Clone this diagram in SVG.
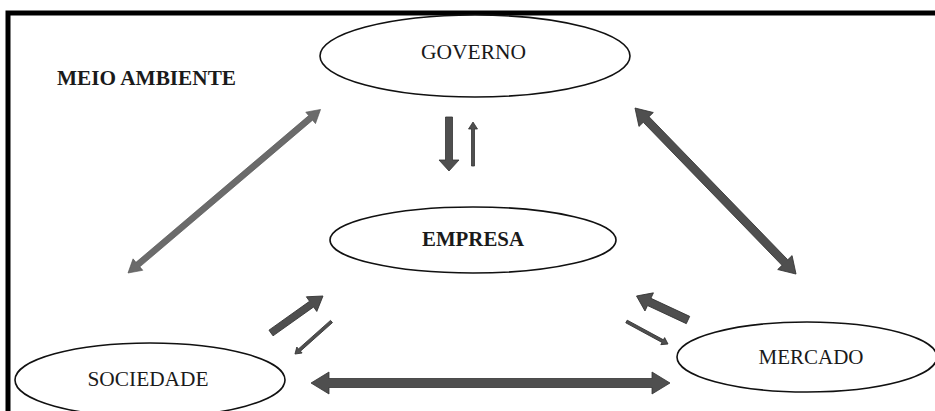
<svg xmlns="http://www.w3.org/2000/svg" width="935" height="411" viewBox="0 0 935 411">
<style>
.node ellipse{fill:#fff;stroke:#111;stroke-width:1.6}
.lbl{font-family:"Liberation Serif","Times New Roman",serif;font-size:20px;fill:#1a1a1a;text-anchor:middle}
.b{font-weight:bold}
.arr{fill:#4f4f4f;stroke:#333;stroke-width:0.8;stroke-linejoin:miter}
.arr2{fill:#6b6b6b;stroke:#555;stroke-width:0.6}
</style>
<rect x="0" y="0" width="935" height="411" fill="#fff"/>
<rect x="8" y="13" width="940" height="420" fill="none" stroke="#000" stroke-width="5"/>
<text class="lbl b" x="57" y="85" style="text-anchor:start" textLength="179" lengthAdjust="spacingAndGlyphs">MEIO AMBIENTE</text>
<g id="governo" class="node">
<ellipse cx="475" cy="56" rx="155" ry="41"/>
<text class="lbl" x="473.5" y="58.5" textLength="105" lengthAdjust="spacingAndGlyphs">GOVERNO</text>
</g>
<g id="empresa" class="node">
<ellipse cx="473" cy="240" rx="143" ry="33"/>
<text class="lbl b" x="473" y="245.5" textLength="102" lengthAdjust="spacingAndGlyphs">EMPRESA</text>
</g>
<g id="sociedade" class="node">
<ellipse cx="150" cy="380" rx="135" ry="37"/>
<text class="lbl" x="148" y="385.5" textLength="121" lengthAdjust="spacingAndGlyphs">SOCIEDADE</text>
</g>
<g id="mercado" class="node">
<ellipse cx="807" cy="357" rx="130" ry="35"/>
<text class="lbl" x="811" y="363.5" textLength="105" lengthAdjust="spacingAndGlyphs">MERCADO</text>
</g>
<g id="connectors">
<polygon class="arr" points="445.5,117 452.5,117 452.5,160 459,160 449,171 439,160 445.5,160"/>
<polygon class="arr" points="471.5,166 474.5,166 474.5,129 477.5,129 473,122 468.5,129 471.5,129"/>
<polygon class="arr2" transform="translate(128,273) rotate(-40.34)" points="0,0 13,-7.5 13,-3 239.6,-3 239.6,-7.5 252.6,0 239.6,7.5 239.6,3 13,3 13,7.5"/>
<polygon class="arr" transform="translate(635,108) rotate(45.88)" points="0,0 16,-10 16,-4 215.3,-4 215.3,-10 231.3,0 215.3,10 215.3,4 16,4 16,10"/>
<polygon class="arr" transform="translate(311,383)" points="0,0 18,-11 18,-4.5 341,-4.5 341,-11 359,0 341,11 341,4.5 18,4.5 18,11"/>
<polygon class="arr" transform="translate(271,333) rotate(-35.43)" points="0,-3.5 49.8,-3.5 49.8,-9 63.8,0 49.8,9 49.8,3.5 0,3.5"/>
<polygon class="arr" transform="translate(331.5,321.5) rotate(138.32)" points="0,-1.5 42.9,-1.5 42.9,-4 48.9,0 42.9,4 42.9,1.5 0,1.5"/>
<polygon class="arr" transform="translate(688,320) rotate(-155.01)" points="0,-4 42.8,-4 42.8,-10 56.8,0 42.8,10 42.8,4 0,4"/>
<polygon class="arr" transform="translate(626.5,321.5) rotate(28.46)" points="0,-1.5 41.2,-1.5 41.2,-4 47.2,0 41.2,4 41.2,1.5 0,1.5"/>
</g>
</svg>
